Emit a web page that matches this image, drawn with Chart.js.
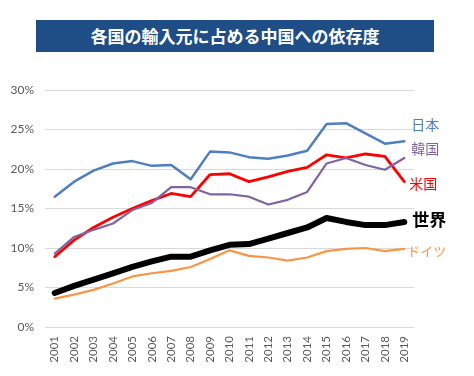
<!DOCTYPE html>
<html><head><meta charset="utf-8">
<script src="https://cdn.jsdelivr.net/npm/chart.js@4/dist/chart.umd.min.js"></script>
<style>
html,body{margin:0;padding:0;background:#fff;}
#wrap{position:relative;width:474px;height:376px;}
#title{position:absolute;left:36px;top:20px;width:398px;height:32px;background:#1f4e86;color:#fff;
font-family:"Noto Sans CJK JP",sans-serif;font-weight:bold;font-size:17px;line-height:32px;text-align:center;}
canvas{position:absolute;left:0;top:0;}
</style></head>
<body><div id="wrap"><canvas id="c" width="474" height="376"></canvas><div id="title">各国の輸入元に占める中国への依存度</div></div>
<script>
const years = ['2001','2002','2003','2004','2005','2006','2007','2008','2009','2010','2011','2012','2013','2014','2015','2016','2017','2018','2019'];
const japan   = [16.5,18.4,19.8,20.7,21.0,20.4,20.5,18.7,22.2,22.1,21.5,21.3,21.7,22.3,25.7,25.8,24.5,23.2,23.5];
const korea   = [9.3,11.4,12.3,13.1,14.8,15.7,17.7,17.7,16.8,16.8,16.5,15.5,16.1,17.1,20.7,21.4,20.5,19.9,21.4];
const usa     = [8.9,11.0,12.6,13.9,15.0,16.0,16.9,16.5,19.3,19.4,18.4,19.0,19.7,20.2,21.8,21.4,21.9,21.6,18.4];
const world   = [4.3,5.2,6.0,6.8,7.6,8.3,8.9,8.9,9.7,10.4,10.5,11.2,11.9,12.6,13.8,13.3,12.9,12.9,13.3];
const germany = [3.6,4.1,4.7,5.5,6.4,6.8,7.1,7.6,8.6,9.7,9.0,8.8,8.4,8.8,9.6,9.9,10.0,9.6,9.9];
const seriesNames = ['日本','韓国','米国','世界','ドイツ'];
const yTicks = [0,5,10,15,20,25,30];

const labelPlugin = {
  id:'endLabels',
  afterDatasetsDraw(chart){
    const ctx = chart.ctx;
    const offs = [{dx:7,dy:-17},{dx:7,dy:-9},{dx:5,dy:2},{dx:8,dy:-2},{dx:3,dy:2}];
    chart.data.datasets.forEach((ds,i)=>{
      const meta = chart.getDatasetMeta(i);
      const p = meta.data[meta.data.length-1];
      ctx.save();
      ctx.fillStyle = ds.labelColor;
      ctx.font = ds.labelFont;
      ctx.textBaseline='middle';
      ctx.textAlign='left';
      ctx.fillText(ds.label, p.x+offs[i].dx, p.y+offs[i].dy);
      ctx.restore();
    });
  }
};

new Chart(document.getElementById('c'),{
  type:'line',
  data:{labels:years,datasets:[
    {label:seriesNames[0],data:japan,borderColor:'#4f7fbf',borderWidth:2.5,labelColor:'#4f7fbf',labelFont:'14px "Noto Sans CJK JP"'},
    {label:seriesNames[1],data:korea,borderColor:'#8064a2',borderWidth:2.2,labelColor:'#8064a2',labelFont:'14px "Noto Sans CJK JP"'},
    {label:seriesNames[2],data:usa,borderColor:'#ff0000',borderWidth:2.8,labelColor:'#ff0000',labelFont:'14px "Noto Sans CJK JP"'},
    {label:seriesNames[3],data:world,borderColor:'#000000',borderWidth:6,labelColor:'#000000',labelFont:'bold 17px "Noto Sans CJK JP"'},
    {label:seriesNames[4],data:germany,borderColor:'#f79646',borderWidth:2.2,labelColor:'#f79646',labelFont:'13px "Noto Sans CJK JP"'}
  ].map(d=>Object.assign(d,{pointRadius:0,tension:0,fill:false,borderJoinStyle:'round',borderCapStyle:'round'}))},
  options:{
    responsive:false,animation:false,
    layout:{padding:{left:0,right:60,top:90,bottom:4}},
    plugins:{legend:{display:false},tooltip:{enabled:false}},
    scales:{
      x:{offset:true,grid:{display:false,drawTicks:false},border:{display:false},
        ticks:{minRotation:90,maxRotation:90,padding:9,color:'#595959',font:{family:'Lato',size:11.5}},
        afterFit(s){s.height=45;}},
      y:{min:0,max:30,grid:{color:'#d9d9d9',drawTicks:false},border:{display:false},
        afterBuildTicks(s){s.ticks=yTicks.map(v=>({value:v}));},
        ticks:{padding:11,color:'#595959',font:{family:'Lato',size:12},callback:v=>v+'%'},
        afterFit(s){s.width=45;}}
    }
  },
  plugins:[labelPlugin]
});
</script></body></html>
